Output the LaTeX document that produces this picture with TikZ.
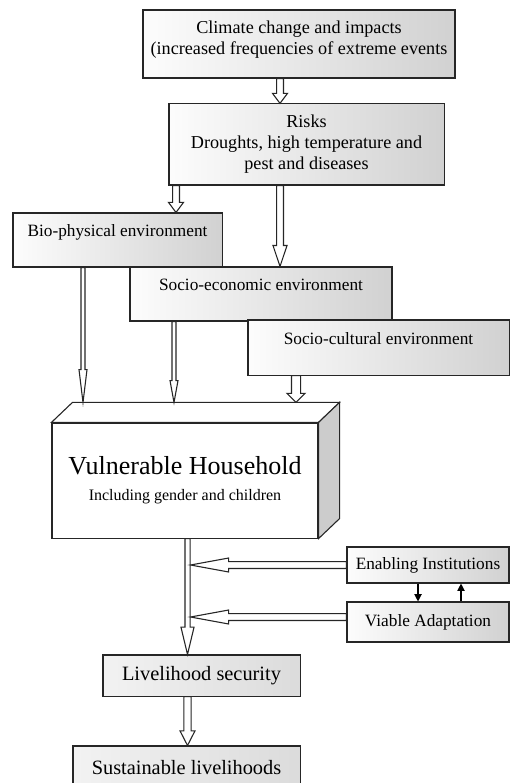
\documentclass[tikz,border=0pt]{standalone}
\usepackage{fontspec}
\setmainfont{Liberation Serif}
\usepackage{tikz}
\usetikzlibrary{arrows.meta,positioning,calc}

\begin{document}
\begin{tikzpicture}[
    x=0.55pt, y=-0.55pt,
    box/.style={rectangle, draw=black!85, line width=0.6pt, left color=gray!2, right color=gray!36, align=center, inner sep=2pt, font=\fontsize{10}{11.5}\selectfont},
    envbox/.style={box, font=\fontsize{9.5}{11}\selectfont, text depth=10pt},
    sidebox/.style={box, font=\fontsize{9.5}{11}\selectfont},
    outbox/.style={box, left color=gray!10, right color=gray!28, font=\fontsize{11.2}{13}\selectfont},
    hollow/.style n args={3}{draw=black!85, line width=0.6pt, fill=white, to path={
        ($(\tikztotarget)!#3!(\tikztostart)$) coordinate (hb)
        ($(\tikztostart)!#1!90:(\tikztotarget)$)
        -- ($(hb)!#1!90:(\tikztotarget)$) -- ($(hb)!#2!90:(\tikztotarget)$)
        -- (\tikztotarget)
        -- ($(hb)!#2!-90:(\tikztotarget)$) -- ($(hb)!#1!-90:(\tikztotarget)$)
        -- ($(\tikztostart)!#1!-90:(\tikztotarget)$) -- cycle}},
    link/.style={-{Triangle[length=4pt,width=4pt]}, line width=0.6pt}
]
\useasboundingbox (0,0) rectangle (511,783);

% Climate and risks
\node[box, minimum width=171.6pt, minimum height=37.4pt, text depth=7pt] (climate) at (299,44) {Climate change and impacts\\(increased frequencies of extreme events};
\node[box, minimum width=151.3pt, minimum height=44.6pt] (risks) at (306.5,144.5) {Risks\\Droughts, high temperature and\\pest and diseases};

% Environments
\node[envbox, minimum width=115pt, minimum height=29.7pt] (bio) at (117.5,240) {Bio-physical environment};
\node[envbox, minimum width=144.1pt, minimum height=29.7pt] (socioeco) at (261,294) {Socio-economic environment};
\node[envbox, minimum width=143.6pt, minimum height=30.3pt] (sociocult) at (378.5,347.5) {Socio-cultural environment};

% Household block
\node[box, left color=white, right color=white, minimum width=146.3pt, minimum height=63.3pt] (hh) at (185,480.5)
    {\fontsize{14.3}{16}\selectfont Vulnerable Household\\[3pt]\fontsize{8.8}{10}\selectfont Including gender and children};
\coordinate (hhback) at ($(hh.north west)+(21,-20)$);
\draw[line width=0.6pt, draw=black!85, fill=white] (hh.north west) -- (hhback) -- ($(hh.north east)+(21,-20)$) -- (hh.north east) -- cycle;
\draw[line width=0.6pt, draw=black!85, fill=gray!40] (hh.north east) -- ++(21,-20) -- ($(hh.south east)+(21,-20)$) -- (hh.south east) -- cycle;

% Institutions and adaptation
\node[sidebox, minimum width=89.1pt, minimum height=19.8pt] (ei) at (428,565) {Enabling Institutions};
\node[sidebox, minimum width=89.1pt, minimum height=22pt] (va) at (428,622) {Viable Adaptation};

% Outcomes
\node[outbox, minimum width=108.4pt, minimum height=22.6pt] (ls) at (201.5,675.5) {Livelihood security};
\node[outbox, minimum width=124.9pt, minimum height=24.2pt] (sl) at (186.5,768) {Sustainable livelihoods};

% Arrow columns
\coordinate (c1) at (280,0);
\coordinate (c2) at (176,0);
\coordinate (c3) at (83,0);
\coordinate (c4) at (174,0);
\coordinate (c5) at (296,0);
\coordinate (c6) at (187.5,0);
\coordinate (shaft) at (190.5,0);
\coordinate (vrow) at (0,617);

% Arrows
\draw[hollow={1.9pt}{4.1pt}{5.5pt}] (climate.south -| c1) to (risks.north -| c1);
\draw[hollow={1.9pt}{4.1pt}{5.5pt}] (risks.south -| c2) to (bio.north -| c2);
\draw[hollow={1.9pt}{3.85pt}{11.5pt}] (risks.south -| c1) to (socioeco.north -| c1);
\draw[hollow={1.1pt}{2.2pt}{18pt}] (bio.south -| c3) to (hhback -| c3);
\draw[hollow={1.1pt}{2.2pt}{12pt}] (socioeco.south -| c4) to (hhback -| c4);
\draw[hollow={2.5pt}{5pt}{5pt}] (sociocult.south -| c5) to (hhback -| c5);
\draw[hollow={1.4pt}{3.6pt}{15pt}] (hh.south -| c6) to (ls.north -| c6);
\draw[hollow={1.9pt}{3.85pt}{21pt}] (ei.west) to (ei.west -| shaft);
\draw[hollow={1.9pt}{3.85pt}{21pt}] (va.west |- vrow) to (vrow -| shaft);
\draw[hollow={2pt}{4.1pt}{8pt}] (ls.south -| c6) to (sl.north -| c6);

\draw[link] ([xshift=-5.5pt]ei.south) -- ([xshift=-5.5pt]va.north);
\draw[link] ([xshift=18.15pt]va.north) -- ([xshift=18.15pt]ei.south);

\end{tikzpicture}
\end{document}
